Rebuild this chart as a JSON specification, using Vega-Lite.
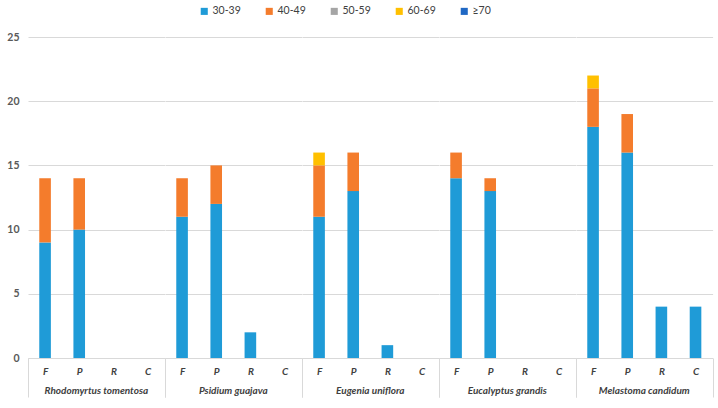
{
  "$schema": "https://vega.github.io/schema/vega-lite/v6.json",
  "background": "white",
  "padding": {"left": 6, "top": 6, "right": 5, "bottom": 2},
  "config": {
    "view": {"stroke": null},
    "font": "Lato"
  },
  "data": {
    "values": [
      {"species": "Rhodomyrtus tomentosa", "cat": "F", "range": "30-39", "value": 9},
      {"species": "Rhodomyrtus tomentosa", "cat": "F", "range": "40-49", "value": 5},
      {"species": "Rhodomyrtus tomentosa", "cat": "P", "range": "30-39", "value": 10},
      {"species": "Rhodomyrtus tomentosa", "cat": "P", "range": "40-49", "value": 4},
      {"species": "Psidium guajava", "cat": "F", "range": "30-39", "value": 11},
      {"species": "Psidium guajava", "cat": "F", "range": "40-49", "value": 3},
      {"species": "Psidium guajava", "cat": "P", "range": "30-39", "value": 12},
      {"species": "Psidium guajava", "cat": "P", "range": "40-49", "value": 3},
      {"species": "Psidium guajava", "cat": "R", "range": "30-39", "value": 2},
      {"species": "Eugenia uniflora", "cat": "F", "range": "30-39", "value": 11},
      {"species": "Eugenia uniflora", "cat": "F", "range": "40-49", "value": 4},
      {"species": "Eugenia uniflora", "cat": "F", "range": "60-69", "value": 1},
      {"species": "Eugenia uniflora", "cat": "P", "range": "30-39", "value": 13},
      {"species": "Eugenia uniflora", "cat": "P", "range": "40-49", "value": 3},
      {"species": "Eugenia uniflora", "cat": "R", "range": "30-39", "value": 1},
      {"species": "Eucalyptus grandis", "cat": "F", "range": "30-39", "value": 14},
      {"species": "Eucalyptus grandis", "cat": "F", "range": "40-49", "value": 2},
      {"species": "Eucalyptus grandis", "cat": "P", "range": "30-39", "value": 13},
      {"species": "Eucalyptus grandis", "cat": "P", "range": "40-49", "value": 1},
      {"species": "Melastoma candidum", "cat": "F", "range": "30-39", "value": 18},
      {"species": "Melastoma candidum", "cat": "F", "range": "40-49", "value": 3},
      {"species": "Melastoma candidum", "cat": "F", "range": "60-69", "value": 1},
      {"species": "Melastoma candidum", "cat": "P", "range": "30-39", "value": 16},
      {"species": "Melastoma candidum", "cat": "P", "range": "40-49", "value": 3},
      {"species": "Melastoma candidum", "cat": "R", "range": "30-39", "value": 4},
      {"species": "Melastoma candidum", "cat": "C", "range": "30-39", "value": 4}
    ]
  },
  "spacing": 0,
  "facet": {
    "column": {
      "field": "species",
      "type": "nominal",
      "sort": ["Rhodomyrtus tomentosa", "Psidium guajava", "Eugenia uniflora", "Eucalyptus grandis", "Melastoma candidum"],
      "header": {
        "title": null,
        "labelOrient": "bottom",
        "labelFont": "Lato",
        "labelFontStyle": "italic",
        "labelFontWeight": "bold",
        "labelFontSize": 10,
        "labelColor": "#404040",
        "labelPadding": -12
      }
    }
  },
  "spec": {
    "width": 136.6,
    "height": 321,
    "mark": {"type": "bar", "width": {"band": 0.34}},
    "encoding": {
      "x": {
        "field": "cat",
        "type": "nominal",
        "title": null,
        "scale": {"domain": ["F", "P", "R", "C"], "paddingInner": 0, "paddingOuter": 0},
        "axis": {
          "labelAngle": 0,
          "ticks": true,
          "tickBand": "extent",
          "tickSize": 39,
          "tickColor": {"condition": {"test": "datum.value == 'C' || datum.extra", "value": "#d9d9d9"}, "value": "rgba(0,0,0,0)"},
          "domainColor": "#d9d9d9",
          "labelFontStyle": "italic",
          "labelFontWeight": "bold",
          "labelFontSize": 10,
          "labelColor": "#404040",
          "labelPadding": -31
        }
      },
      "y": {
        "field": "value",
        "type": "quantitative",
        "stack": "zero",
        "title": null,
        "scale": {"domain": [0, 25], "nice": false},
        "axis": {
          "values": [0, 5, 10, 15, 20, 25],
          "ticks": false,
          "domain": false,
          "gridColor": "#d9d9d9",
          "labelFontWeight": "bold",
          "labelFontSize": 10.5,
          "labelColor": "#595959",
          "labelPadding": 9
        }
      },
      "color": {
        "field": "range",
        "type": "nominal",
        "scale": {
          "domain": ["30-39", "40-49", "50-59", "60-69", "≥70"],
          "range": ["#1F9BD7", "#F47C2C", "#A5A5A5", "#FFC000", "#2068C4"]
        },
        "legend": {
          "title": null,
          "orient": "none",
          "legendX": 171,
          "legendY": -31,
          "direction": "horizontal",
          "symbolType": "square",
          "symbolSize": 50,
          "symbolStrokeWidth": 0,
          "labelFontSize": 10.5,
          "labelColor": "#404040",
          "labelFont": "Lato",
          "columnPadding": 23,
          "labelOffset": 3
        }
      },
      "order": {"field": "range", "sort": "ascending"}
    }
  }
}
